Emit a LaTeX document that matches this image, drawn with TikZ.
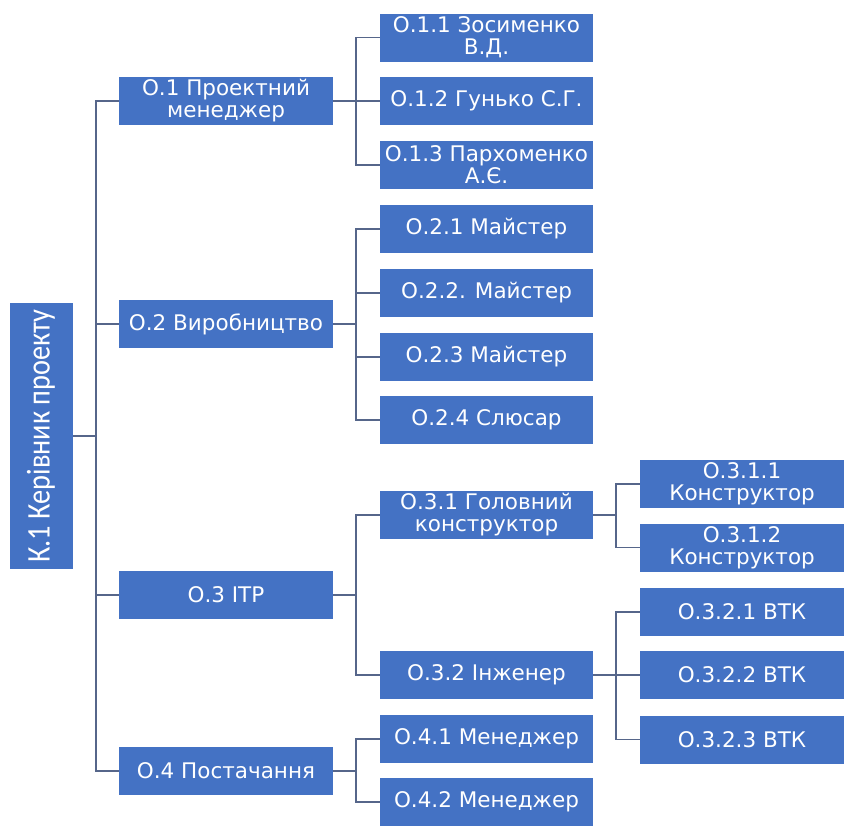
\documentclass[tikz,border=0pt]{standalone}
\usepackage{fontspec}
\setmainfont{DejaVu Sans}
\newfontfamily\rootfont{Carlito}
\definecolor{boxblue}{HTML}{4472C4}
\definecolor{linecol}{HTML}{56668A}
\begin{document}
\begin{tikzpicture}[x=1pt,y=-1pt,
  box/.style={fill=boxblue, text=white, inner sep=0pt, minimum height=48pt, align=center, font=\fontsize{21.5}{22}\selectfont},
  lone/.style={box, minimum width=214pt},
  ltwo/.style={box, minimum width=213pt},
  lthree/.style={box, minimum width=204pt},
  conn/.style={draw=linecol, line width=1.5pt}]
\useasboundingbox (0,0) rectangle (845,825);
% root
\node[fill=boxblue, inner sep=0pt, minimum width=63pt, minimum height=266pt] (k) at (41.5,436) {};
\node[rotate=90, text=white, inner sep=0pt, font=\rootfont\fontsize{33}{36}\selectfont] (klabel) at (41,436) {\scalebox{0.86}[1]{К.1 Керівник проекту}};
% level 1
\node[lone] (o1) at (226,101) {О.1 Проектний\\менеджер};
\node[lone] (o2) at (226,324) {О.2 Виробництво};
\node[lone] (o3) at (226,595) {О.3 ІТР};
\node[lone] (o4) at (226,771) {О.4 Постачання};
% level 2
\node[ltwo] (o11) at (486.5,37.5) {О.1.1 Зосименко\\В.Д.};
\node[ltwo] (o12) at (486.5,101) {О.1.2 Гунько С.Г.};
\node[ltwo] (o13) at (486.5,165) {О.1.3 Пархоменко\\А.Є.};
\node[ltwo] (o21) at (486.5,229) {О.2.1 Майстер};
\node[ltwo] (o22) at (486.5,293) {О.2.2. Майстер};
\node[ltwo] (o23) at (486.5,357) {О.2.3 Майстер};
\node[ltwo] (o24) at (486.5,420) {О.2.4 Слюсар};
\node[ltwo] (o31) at (486.5,515) {О.3.1 Головний\\конструктор};
\node[ltwo] (o32) at (486.5,675) {О.3.2 Інженер};
\node[ltwo] (o41) at (486.5,739) {О.4.1 Менеджер};
\node[ltwo] (o42) at (486.5,802) {О.4.2 Менеджер};
% level 3
\node[lthree] (o311) at (742,484) {О.3.1.1\\Конструктор};
\node[lthree] (o312) at (742,547.5) {О.3.1.2\\Конструктор};
\node[lthree] (o321) at (742,612) {О.3.2.1 ВТК};
\node[lthree] (o322) at (742,675) {О.3.2.2 ВТК};
\node[lthree] (o323) at (742,739.5) {О.3.2.3 ВТК};
% connectors
\draw[conn] (k.east) -- ++(23,0) coordinate (trunk);
\foreach \c in {o1,o2,o3,o4} \draw[conn] (trunk) |- (\c.west);
\draw[conn] (o1.east) -- ++(23,0) coordinate (b1);
\foreach \c in {o11,o12,o13} \draw[conn] (b1) |- (\c.west);
\draw[conn] (o2.east) -- ++(23,0) coordinate (b2);
\foreach \c in {o21,o22,o23,o24} \draw[conn] (b2) |- (\c.west);
\draw[conn] (o3.east) -- ++(23,0) coordinate (b3);
\foreach \c in {o31,o32} \draw[conn] (b3) |- (\c.west);
\draw[conn] (o4.east) -- ++(23,0) coordinate (b4);
\foreach \c in {o41,o42} \draw[conn] (b4) |- (\c.west);
\draw[conn] (o31.east) -- ++(23,0) coordinate (b31);
\foreach \c in {o311,o312} \draw[conn] (b31) |- (\c.west);
\draw[conn] (o32.east) -- ++(23,0) coordinate (b32);
\foreach \c in {o321,o322,o323} \draw[conn] (b32) |- (\c.west);
\end{tikzpicture}
\end{document}
